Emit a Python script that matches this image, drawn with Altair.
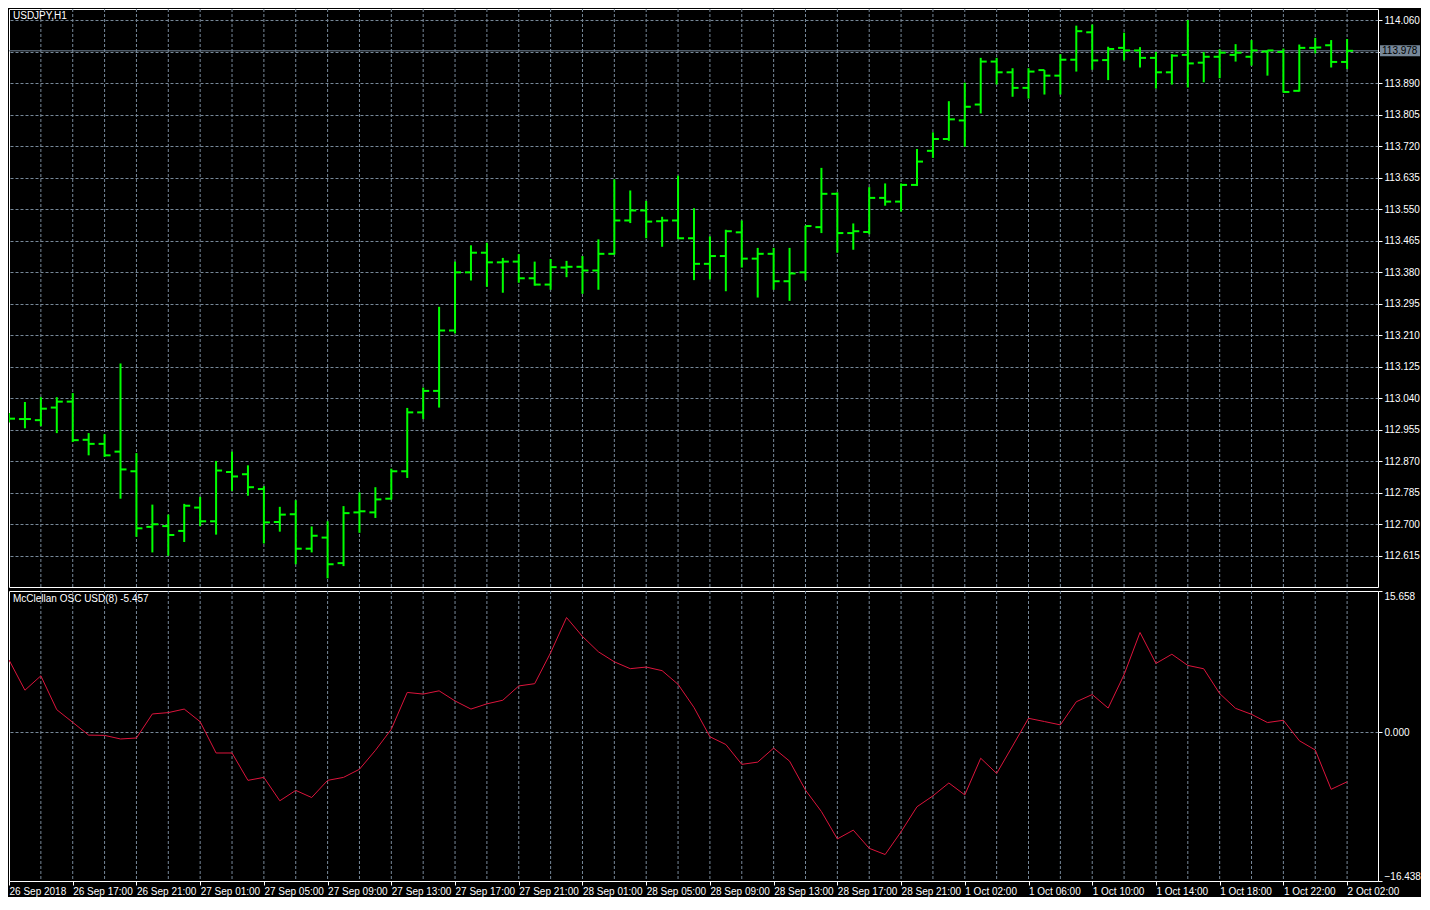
import json
import pandas as pd
import altair as alt

# ---------------- data ----------------
k_index = list(range(85))

opens = [112.990, 112.984, 112.981, 113.015, 113.031, 112.928, 112.917, 112.896, 112.843, 112.693,
         112.695, 112.682, 112.745, 112.708, 112.841, 112.835, 112.795, 112.706, 112.727, 112.634,
         112.664, 112.595, 112.732, 112.732, 112.769, 112.843, 113.002, 113.060, 113.223, 113.380,
         113.433, 113.407, 113.409, 113.364, 113.347, 113.393, 113.395, 113.385, 113.430, 113.520,
         113.547, 113.518, 113.520, 113.472, 113.403, 113.424, 113.488, 113.417, 113.430, 113.356,
         113.380, 113.502, 113.592, 113.486, 113.489, 113.581, 113.571, 113.616, 113.708, 113.740,
         113.790, 113.833, 113.949, 113.920, 113.878, 113.926, 113.911, 113.954, 114.028, 113.953,
         113.986, 113.979, 113.959, 113.920, 113.967, 113.946, 113.962, 113.967, 113.962, 113.976,
         113.975, 113.870, 113.986, 113.993, 113.948]

highs = [113.000, 113.030, 113.043, 113.043, 113.054, 112.946, 112.943, 113.134, 112.892, 112.753,
         112.726, 112.755, 112.774, 112.871, 112.896, 112.859, 112.803, 112.747, 112.765, 112.694,
         112.708, 112.749, 112.786, 112.800, 112.850, 113.014, 113.069, 113.287, 113.409, 113.453,
         113.460, 113.419, 113.429, 113.409, 113.416, 113.411, 113.424, 113.469, 113.631, 113.601,
         113.573, 113.530, 113.641, 113.553, 113.477, 113.495, 113.520, 113.446, 113.446, 113.446,
         113.506, 113.662, 113.596, 113.512, 113.610, 113.620, 113.620, 113.713, 113.758, 113.842,
         113.892, 113.959, 113.959, 113.931, 113.931, 113.926, 113.969, 114.046, 114.049, 113.989,
         114.027, 113.988, 113.975, 113.969, 114.061, 113.975, 113.982, 113.996, 114.007, 113.979,
         113.984, 113.995, 114.013, 114.007, 114.010]

lows = [112.975, 112.959, 112.965, 112.946, 112.922, 112.886, 112.882, 112.769, 112.666, 112.624,
        112.615, 112.652, 112.695, 112.672, 112.790, 112.777, 112.648, 112.680, 112.592, 112.624,
        112.554, 112.587, 112.677, 112.717, 112.767, 112.825, 112.984, 113.015, 113.215, 113.358,
        113.341, 113.325, 113.352, 113.344, 113.333, 113.367, 113.322, 113.333, 113.428, 113.513,
        113.472, 113.449, 113.470, 113.359, 113.361, 113.329, 113.393, 113.312, 113.333, 113.303,
        113.358, 113.486, 113.433, 113.441, 113.483, 113.560, 113.544, 113.613, 113.689, 113.735,
        113.719, 113.809, 113.887, 113.854, 113.849, 113.860, 113.860, 113.922, 113.927, 113.899,
        113.952, 113.933, 113.876, 113.887, 113.879, 113.893, 113.904, 113.949, 113.938, 113.911,
        113.865, 113.868, 113.971, 113.933, 113.929]

closes = [112.985, 112.984, 113.012, 113.031, 112.927, 112.917, 112.886, 112.848, 112.689, 112.700,
          112.671, 112.750, 112.708, 112.845, 112.829, 112.800, 112.705, 112.726, 112.634, 112.669,
          112.592, 112.730, 112.735, 112.767, 112.843, 113.002, 113.060, 113.223, 113.380, 113.433,
          113.407, 113.409, 113.364, 113.347, 113.394, 113.395, 113.385, 113.430, 113.520, 113.547,
          113.517, 113.520, 113.472, 113.403, 113.424, 113.491, 113.417, 113.430, 113.356, 113.377,
          113.505, 113.592, 113.486, 113.491, 113.581, 113.571, 113.616, 113.679, 113.740, 113.793,
          113.827, 113.949, 113.920, 113.878, 113.922, 113.911, 113.954, 114.031, 113.952, 113.983,
          113.979, 113.959, 113.920, 113.965, 113.944, 113.962, 113.973, 113.973, 113.979, 113.979,
          113.867, 113.986, 113.987, 113.948, 113.978]

osc = [8.03, 4.68, 6.27, 2.52, 1.12, -0.29, -0.32, -0.72, -0.61, 2.05,
       2.20, 2.59, 1.19, -2.27, -2.27, -5.30, -4.97, -7.56, -6.41, -7.20,
       -5.30, -4.97, -4.07, -1.98, 0.36, 4.43, 4.25, 4.61, 3.49, 2.59,
       3.17, 3.57, 5.15, 5.40, 8.83, 12.72, 10.63, 8.93, 7.82, 7.06,
       7.24, 6.84, 5.33, 2.77, -0.47, -1.33, -3.53, -3.28, -1.73, -3.17,
       -6.38, -8.75, -11.78, -10.81, -12.82, -13.51, -10.99, -8.22, -7.02, -5.59,
       -6.91, -2.85, -4.53, -1.50, 1.57, 1.21, 0.84, 3.40, 4.20, 2.70,
       6.40, 11.07, 7.64, 8.66, 7.42, 7.05, 4.31, 2.67, 2.01, 1.10,
       1.35, -0.91, -1.94, -6.29, -5.457]

price_ticks = [round(112.615 + 0.085 * i, 3) for i in range(18)]
osc_ticks = [-16.438, 0.0, 15.658]
time_labels = ["26 Sep 2018", "26 Sep 17:00", "26 Sep 21:00", "27 Sep 01:00", "27 Sep 05:00",
               "27 Sep 09:00", "27 Sep 13:00", "27 Sep 17:00", "27 Sep 21:00", "28 Sep 01:00",
               "28 Sep 05:00", "28 Sep 09:00", "28 Sep 13:00", "28 Sep 17:00", "28 Sep 21:00",
               "1 Oct 02:00", "1 Oct 06:00", "1 Oct 10:00", "1 Oct 14:00", "1 Oct 18:00",
               "1 Oct 22:00", "2 Oct 02:00"]

# ---------------- styling ----------------
GREEN = "#00ff00"
GRID = "#778899"
RED = "#dc143c"
FONT = "Liberation Sans"
W = 1369
H1 = 578
H2 = 290

df = pd.DataFrame({"k": k_index, "open": opens, "high": highs, "low": lows,
                   "close": closes, "osc": osc})
grid_df = pd.DataFrame({"g": list(range(2, 85, 2))})
last_df = pd.DataFrame({"p": [closes[-1]], "label": [f"{closes[-1]:.3f}"]})

xs = alt.Scale(domain=[0, 85.94], nice=False, zero=False)
ys = alt.Scale(domain=[112.5306, 114.0909], nice=False, zero=False)
os_ = alt.Scale(domain=[-16.438, 15.658], nice=False, zero=False)

y_axis = alt.Axis(orient="right", values=price_ticks, format=".3f",
                  labelExpr="abs(datum.value - 113.975) < 0.0005 ? '' : format(datum.value, '.3f')",
                  grid=True, gridColor=GRID, gridDash=[3, 2], gridWidth=1,
                  domain=False, tickColor="white", tickSize=4,
                  labelColor="white", labelFont=FONT, labelFontSize=10, labelPadding=2,
                  labelFlush=False, labelOverlap=False, title=None)

x_axis = alt.Axis(orient="bottom", values=list(range(0, 85, 4)),
                  labelExpr=json.dumps(time_labels) + "[round(datum.value / 4)]",
                  labelAlign="left", labelBaseline="top", labelFlush=False, labelOverlap=False,
                  labelPadding=1, tickSize=4, tickColor="white", domain=True, domainColor="white",
                  grid=False, labelColor="white", labelFont=FONT, labelFontSize=10, title=None)

osc_axis = alt.Axis(orient="right", values=osc_ticks, format=".3f",
                    grid=True, gridColor=GRID, gridDash=[3, 2], gridWidth=1,
                    gridOpacity={"condition": {"test": "abs(datum.value) < 0.000001", "value": 1},
                                 "value": 0},
                    domain=False, tickColor="white", tickSize=4,
                    labelColor="white", labelFont=FONT, labelFontSize=10, labelPadding=2,
                    labelFlush=True, labelOverlap=False, title=None)

# ---------------- top panel: USDJPY H1 bars ----------------
xt = alt.X("k:Q", scale=xs, axis=None)

vgrid_top = alt.Chart(grid_df).mark_rule(color=GRID, strokeDash=[3, 2], strokeWidth=1).encode(
    x=alt.X("g:Q", scale=xs, axis=None))

price_line = alt.Chart(last_df).mark_rule(color=GRID, strokeWidth=1).encode(
    y=alt.Y("p:Q", scale=ys, axis=y_axis))

hl = alt.Chart(df).mark_rule(color=GREEN, strokeWidth=2, clip=True).encode(
    x=xt, y=alt.Y("low:Q", scale=ys, axis=y_axis), y2="high:Q")

open_t = alt.Chart(df).mark_tick(color=GREEN, orient="horizontal", size=6, thickness=2,
                                 xOffset=-3, clip=True, opacity=1).encode(
    x=xt, y=alt.Y("open:Q", scale=ys, axis=y_axis))

close_t = alt.Chart(df).mark_tick(color=GREEN, orient="horizontal", size=6, thickness=2,
                                  xOffset=3, clip=True, opacity=1).encode(
    x=xt, y=alt.Y("close:Q", scale=ys, axis=y_axis))

price_box = alt.Chart(last_df).mark_tick(color=GRID, orient="horizontal", size=40, thickness=11,
                                         opacity=1).encode(
    x=alt.value(W + 22), y=alt.Y("p:Q", scale=ys, axis=y_axis))

price_text = alt.Chart(last_df).mark_text(align="left", baseline="middle", color="black",
                                          font=FONT, fontSize=10).encode(
    x=alt.value(W + 4), y=alt.Y("p:Q", scale=ys, axis=y_axis), text="label:N")

title1 = alt.Chart(pd.DataFrame({"t": ["USDJPY,H1"]})).mark_text(
    align="left", baseline="top", color="white", font=FONT, fontSize=10).encode(
    x=alt.value(4), y=alt.value(2), text="t:N")

top = alt.layer(vgrid_top, price_line, hl, open_t, close_t, price_box, price_text,
                title1).properties(width=W, height=H1)

# ---------------- bottom panel: oscillator ----------------
vgrid_bot = alt.Chart(grid_df).mark_rule(color=GRID, strokeDash=[3, 2], strokeWidth=1).encode(
    x=alt.X("g:Q", scale=xs, axis=x_axis))

osc_line = alt.Chart(df).mark_line(color=RED, strokeWidth=1, clip=True).encode(
    x=alt.X("k:Q", scale=xs, axis=x_axis),
    y=alt.Y("osc:Q", scale=os_, axis=osc_axis))

title2 = alt.Chart(pd.DataFrame({"t": [f"McClellan OSC USD(8) {osc[-1]:.3f}"]})).mark_text(
    align="left", baseline="top", color="white", font=FONT, fontSize=10).encode(
    x=alt.value(4), y=alt.value(3), text="t:N")

bottom = alt.layer(vgrid_bot, osc_line, title2).properties(width=W, height=H2)

chart = alt.vconcat(top, bottom, spacing=2).properties(padding=0).configure(
    background="black").configure_view(stroke="white", strokeWidth=1, fill="black")

chart.save("out.html", embed_options={"renderer": "svg", "actions": False})
